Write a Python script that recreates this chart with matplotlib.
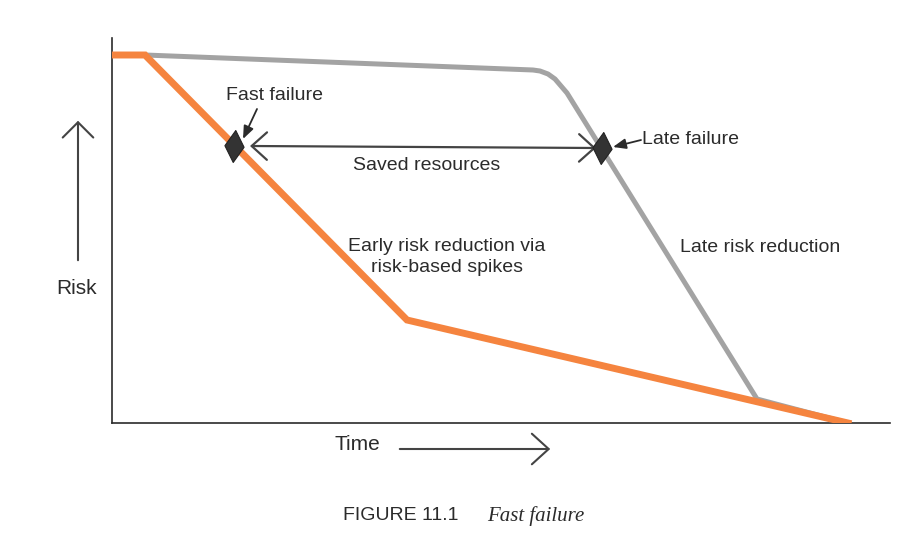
import matplotlib
matplotlib.use("Agg")
import matplotlib.pyplot as plt
from matplotlib.patches import FancyArrowPatch

plt.rcParams['font.family'] = ['Liberation Sans Narrow', 'Liberation Sans', 'DejaVu Sans']

# time / risk (arbitrary units, origin at axes corner)
early_t = [0, 33, 295, 736]
early_r = [368, 368, 103, 0]

late_t = [33, 421, 428, 436, 443, 449, 455, 645, 736]
late_r = [368, 353, 352, 349, 344, 337, 330, 24, 0]

fail_t = [122, 490]
fail_r = [277, 275]
fail_labels = ["Fast failure", "Late failure"]

orange = "#F5843F"
grey = "#A3A3A3"
ink = "#2b2b2b"

# tall diamond, leaning a little
diamond = [(0.08, 1), (0.6, -0.05), (-0.08, -1), (-0.6, 0.05), (0.08, 1)]

fig = plt.figure(figsize=(9.2, 5.43), dpi=100)
ax = fig.add_axes([112 / 920, 120 / 543, 778 / 920, 385 / 543])
ax.set_xlim(0, 778)
ax.set_ylim(0, 385)
ax.spines[['top', 'right']].set_visible(False)
ax.spines[['left', 'bottom']].set_color(ink)
ax.spines[['left', 'bottom']].set_linewidth(1.2)
ax.set_xticks([])
ax.set_yticks([])

ax.plot(late_t, late_r, color=grey, lw=3.6, solid_joinstyle='round', zorder=2)
ax.plot(early_t, early_r, color=orange, lw=5, solid_joinstyle='miter', zorder=3)

# saved resources span between the two failure points
ax.annotate("", xy=(fail_t[0] + 16, fail_r[0]), xytext=(fail_t[1] - 6, fail_r[1]),
            arrowprops=dict(arrowstyle='<->, head_length=0.5, head_width=0.45',
                            color="#444444", lw=1.6, mutation_scale=22,
                            shrinkA=0, shrinkB=0))

ax.plot(fail_t, fail_r, linestyle='none', marker=diamond, markersize=23,
        markeredgewidth=0.8, color="#333333", markeredgecolor="#222222", zorder=4)

# labels and their small pointer arrows
ax.text(163, 327, fail_labels[0], ha='center', va='center', fontsize=14, color=ink)
ax.annotate("", xy=(131, 284), xytext=(145, 314),
            arrowprops=dict(arrowstyle='-|>, head_length=0.55, head_width=0.22',
                            color=ink, lw=1.3, shrinkA=0, shrinkB=0, mutation_scale=14))
ax.text(530, 283, fail_labels[1], ha='left', va='center', fontsize=14, color=ink)
ax.annotate("", xy=(501, 276), xytext=(529, 283),
            arrowprops=dict(arrowstyle='-|>, head_length=0.55, head_width=0.22',
                            color=ink, lw=1.3, shrinkA=0, shrinkB=0, mutation_scale=14))

ax.text(315, 258, "Saved resources", ha='center', va='center', fontsize=14, color=ink)
ax.text(335, 166, "Early risk reduction via\nrisk-based spikes", ha='center', va='center',
        fontsize=14, color=ink, linespacing=1.25)
ax.text(568, 175, "Late risk reduction", ha='left', va='center', fontsize=14, color=ink)

# axis captions outside the plot (figure pixels, origin bottom-left)
fig.text(77, 543 - 289, "Risk", ha='center', va='center', fontsize=15, color=ink,
         transform=None)
fig.text(357, 543 - 445, "Time", ha='center', va='center', fontsize=15, color=ink,
         transform=None)
fig.patches.append(FancyArrowPatch(
    (78, 543 - 263), (78, 543 - 118), transform=None, figure=fig,
    arrowstyle='->, head_length=0.5, head_width=0.5', mutation_scale=22,
    color="#444444", lw=1.5))
fig.patches.append(FancyArrowPatch(
    (397, 543 - 449), (553, 543 - 449), transform=None, figure=fig,
    arrowstyle='->, head_length=0.55, head_width=0.5', mutation_scale=22,
    color="#444444", lw=1.5))

fig.text(343, 543 - 516, "FIGURE 11.1", ha='left', va='center', fontsize=14,
         color=ink, transform=None)
fig.text(487, 543 - 516, "Fast failure", ha='left', va='center', fontsize=15,
         color=ink, style='italic', family=['Liberation Serif', 'DejaVu Serif'],
         transform=None)

fig.savefig("out.png", dpi=100, facecolor='white')
